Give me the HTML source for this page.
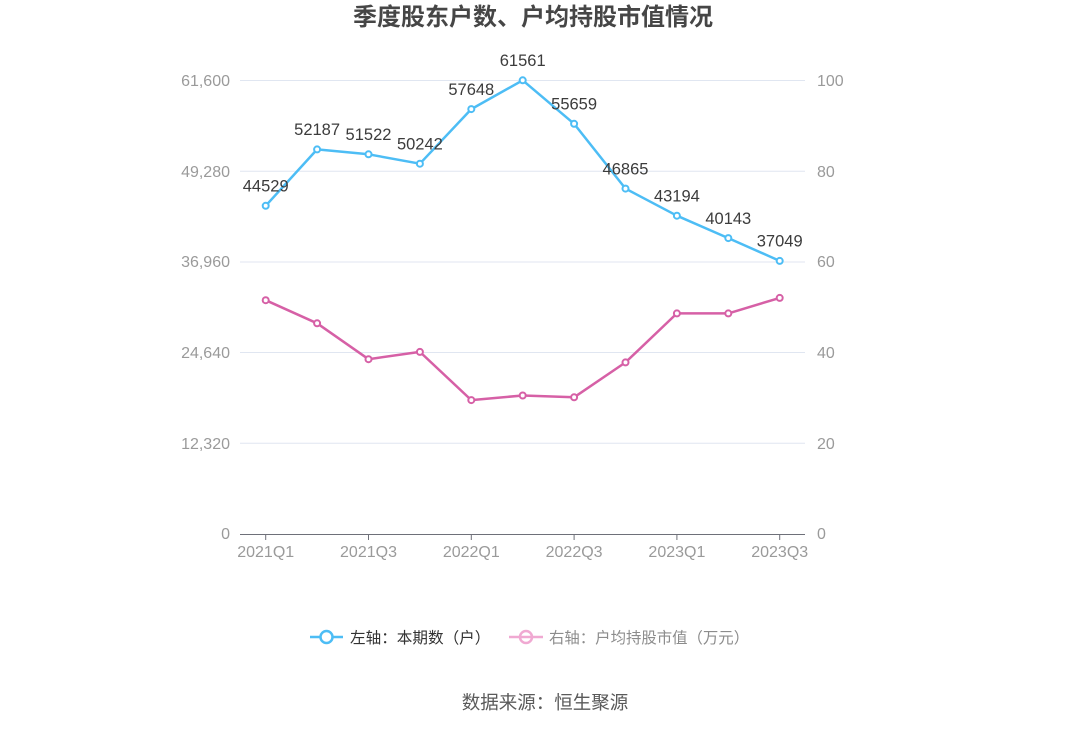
<!DOCTYPE html>
<html><head><meta charset="utf-8"><style>
html,body{margin:0;padding:0;background:#fff;}
svg{display:block;}
text{font-family:"Liberation Sans","Noto Sans CJK SC",sans-serif;}
</style></head><body>
<svg width="1090" height="729" viewBox="0 0 1090 729" xmlns="http://www.w3.org/2000/svg">
<rect width="1090" height="729" fill="#fff"/>
<text x="533" y="25" text-anchor="middle" font-size="24" font-weight="bold" fill="#464646">季度股东户数、户均持股市值情况</text>
<!-- grid -->
<g stroke="#e0e6f1" stroke-width="1">
<line x1="240" y1="80.5" x2="805" y2="80.5"/>
<line x1="240" y1="171.3" x2="805" y2="171.3"/>
<line x1="240" y1="262" x2="805" y2="262"/>
<line x1="240" y1="352.5" x2="805" y2="352.5"/>
<line x1="240" y1="443.2" x2="805" y2="443.2"/>
</g>
<line x1="240" y1="534.5" x2="805" y2="534.5" stroke="#6e7079" stroke-width="1"/>
<g stroke="#6e7079" stroke-width="1">
<line x1="265.7" y1="534" x2="265.7" y2="540"/>
<line x1="368.5" y1="534" x2="368.5" y2="540"/>
<line x1="471.3" y1="534" x2="471.3" y2="540"/>
<line x1="574.1" y1="534" x2="574.1" y2="540"/>
<line x1="676.9" y1="534" x2="676.9" y2="540"/>
<line x1="779.7" y1="534" x2="779.7" y2="540"/>
</g>
<g font-size="16" fill="#9a9a9a" text-anchor="end">
<text x="230" y="86">61,600</text>
<text x="230" y="177">49,280</text>
<text x="230" y="267">36,960</text>
<text x="230" y="358">24,640</text>
<text x="230" y="449">12,320</text>
<text x="230" y="539">0</text>
</g>
<g font-size="16" fill="#9a9a9a" text-anchor="start">
<text x="817" y="86">100</text>
<text x="817" y="177">80</text>
<text x="817" y="267">60</text>
<text x="817" y="358">40</text>
<text x="817" y="449">20</text>
<text x="817" y="539">0</text>
</g>
<g font-size="16" fill="#9a9a9a" text-anchor="middle">
<text x="265.7" y="557">2021Q1</text>
<text x="368.5" y="557">2021Q3</text>
<text x="471.3" y="557">2022Q1</text>
<text x="574.1" y="557">2022Q3</text>
<text x="676.9" y="557">2023Q1</text>
<text x="779.7" y="557">2023Q3</text>
</g>
<!-- pink series -->
<polyline fill="none" stroke="#d660a6" stroke-width="2.5" stroke-linejoin="round" points="265.7,300.2 317.1,323.3 368.5,359.2 419.9,351.9 471.3,400.1 522.7,395.5 574.1,397.3 625.5,362.4 676.9,313.4 728.3,313.4 779.7,297.9"/>
<g fill="#fff" stroke="#d660a6" stroke-width="2">
<circle cx="265.7" cy="300.2" r="3"/><circle cx="317.1" cy="323.3" r="3"/><circle cx="368.5" cy="359.2" r="3"/><circle cx="419.9" cy="351.9" r="3"/><circle cx="471.3" cy="400.1" r="3"/><circle cx="522.7" cy="395.5" r="3"/><circle cx="574.1" cy="397.3" r="3"/><circle cx="625.5" cy="362.4" r="3"/><circle cx="676.9" cy="313.4" r="3"/><circle cx="728.3" cy="313.4" r="3"/><circle cx="779.7" cy="297.9" r="3"/>
</g>
<!-- blue series -->
<polyline fill="none" stroke="#4dbdf5" stroke-width="2.5" stroke-linejoin="round" points="265.7,205.8 317.1,149.4 368.5,154.3 419.9,163.7 471.3,109.1 522.7,80.3 574.1,123.8 625.5,188.6 676.9,215.7 728.3,238.1 779.7,260.9"/>
<g fill="#fff" stroke="#4dbdf5" stroke-width="2">
<circle cx="265.7" cy="205.8" r="3"/><circle cx="317.1" cy="149.4" r="3"/><circle cx="368.5" cy="154.3" r="3"/><circle cx="419.9" cy="163.7" r="3"/><circle cx="471.3" cy="109.1" r="3"/><circle cx="522.7" cy="80.3" r="3"/><circle cx="574.1" cy="123.8" r="3"/><circle cx="625.5" cy="188.6" r="3"/><circle cx="676.9" cy="215.7" r="3"/><circle cx="728.3" cy="238.1" r="3"/><circle cx="779.7" cy="260.9" r="3"/>
</g>
<g font-size="16.5" fill="#3c3c3c" text-anchor="middle">
<text x="265.7" y="191.5">44529</text>
<text x="317.1" y="135">52187</text>
<text x="368.5" y="140">51522</text>
<text x="419.9" y="149.5">50242</text>
<text x="471.3" y="95">57648</text>
<text x="522.7" y="66">61561</text>
<text x="574.1" y="109.5">55659</text>
<text x="625.5" y="174.5">46865</text>
<text x="676.9" y="201.5">43194</text>
<text x="728.3" y="224">40143</text>
<text x="779.7" y="246.5">37049</text>
</g>
<!-- legend -->
<line x1="310" y1="637" x2="343" y2="637" stroke="#4dbdf5" stroke-width="2.5"/>
<circle cx="326.5" cy="637" r="6" fill="#fff" stroke="#4dbdf5" stroke-width="2.5"/>
<text x="350" y="643" font-size="15.6" fill="#333">左轴：本期数（户）</text>
<line x1="509" y1="637" x2="543" y2="637" stroke="#f0a9d2" stroke-width="2.5"/>
<circle cx="526" cy="637" r="6" fill="none" stroke="#f0a9d2" stroke-width="2.5"/>
<text x="549" y="643" font-size="15.4" fill="#8c8c8c">右轴：户均持股市值（万元）</text>
<text x="545" y="709" text-anchor="middle" font-size="18.5" fill="#5a5a5a">数据来源：恒生聚源</text>
</svg>
</body></html>
